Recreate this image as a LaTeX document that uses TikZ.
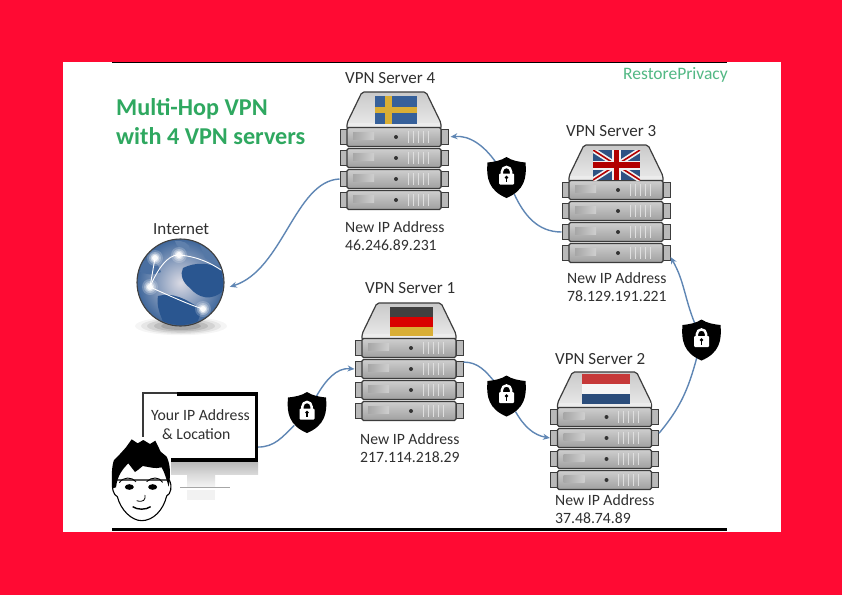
\documentclass[tikz,border=0pt]{standalone}
\usepackage{fontspec}
\setmainfont{Carlito}
\usetikzlibrary{arrows.meta}
\definecolor{pagered}{HTML}{FF0A33}
\definecolor{titlegreen}{HTML}{2FA860}
\definecolor{markgreen}{HTML}{52B884}
\definecolor{linkblue}{HTML}{5F86B4}
\definecolor{inktext}{HTML}{303030}
\definecolor{srvedge}{HTML}{3C3C3C}
\definecolor{seblue}{HTML}{36609A}
\definecolor{seyellow}{HTML}{D9AE35}
\definecolor{globeland}{HTML}{2A5690}
\tikzset{
  txtlabel/.style={anchor=west,inner sep=0pt,text=inktext,font=\fontsize{15.7}{17.7}\selectfont,align=left},
  namelabel/.style={txtlabel,font=\fontsize{17}{20}\selectfont},
  link/.style={draw=linkblue,line width=1.4pt},
  linkarrow/.style={link,-{Stealth[length=7pt,width=6pt]}},
  lockbox/.style={circle,minimum size=36pt,inner sep=0pt},
  srvear/.style={draw=srvedge,line width=1pt,fill=gray!55,minimum width=7pt,minimum height=15pt,inner sep=0pt},
  srvunit/.style={draw=srvedge,line width=1.2pt,rounded corners=1.5pt,top color=gray!38,bottom color=gray!75,minimum width=94pt,minimum height=19pt,inner sep=0pt},
  pics/vpnserver/.style={code={
    \draw[srvedge,line width=1.2pt,rounded corners=2pt,top color=gray!42,bottom color=gray!15]
      (-32,0) -- (32,0) -- (47,31) -- (47,37) -- (-47,37) -- (-47,31) -- cycle;
    \foreach \i/\y in {1/45,2/66,3/87,4/108}{
      \node[srvear] (-l\i) at (-50.5,\y) {};
      \node[srvear] (-r\i) at (50.5,\y) {};
      \node[srvunit] (-u\i) at (0,\y) {};
      \shade[left color=gray!70,right color=gray!38] (-41,\y-5) rectangle (-20,\y+2);
      \fill[black!80] (2,\y) circle (2pt);
      \foreach \v in {14,19,...,34}
        \draw[white!75!gray,line width=0.9pt] (\v,\y-6) -- (\v,\y+6);
    }
    \fill[white!85!gray] (-46,31) rectangle (46,34);
  }},
  pics/flagse/.style={code={
    \fill[seblue] (-21,-14) rectangle (21,14);
    \fill[seyellow] (-11,-14) rectangle (-4,14);
    \fill[seyellow] (-21,-3) rectangle (21,3);
  }},
  pics/flagde/.style={code={
    \fill[black!75] (-21.5,-14.5) rectangle (21.5,-5);
    \fill[red!85!black] (-21.5,-5) rectangle (21.5,5);
    \fill[seyellow] (-21.5,5) rectangle (21.5,14.5);
  }},
  pics/flagnl/.style={code={
    \fill[red!55!gray] (-24,-15) rectangle (24,-5.5);
    \fill[gray!8] (-24,-5.5) rectangle (24,5);
    \fill[seblue!80!black] (-24,5) rectangle (24,15);
  }},
  pics/flaguk/.style={code={
    \begin{scope}
      \clip (-23.5,-15) rectangle (23.5,15);
      \fill[seblue!85!black] (-23.5,-15) rectangle (23.5,15);
      \draw[gray!10,line width=5pt] (-23.5,-15) -- (23.5,15) (-23.5,15) -- (23.5,-15);
      \draw[red!70!black,line width=1.6pt] (-23.5,-15) -- (23.5,15) (-23.5,15) -- (23.5,-15);
      \draw[gray!10,line width=9pt] (0,-15) -- (0,15) (-23.5,0) -- (23.5,0);
      \draw[red!70!black,line width=5.5pt] (0,-15) -- (0,15) (-23.5,0) -- (23.5,0);
    \end{scope}
  }},
  pics/lockshield/.style={code={
    \fill[black] (0,-20.5) .. controls (5,-17) and (13,-15.5) .. (19,-15)
      .. controls (20.5,0) and (18,13) .. (0,20.5)
      .. controls (-18,13) and (-20.5,0) .. (-19,-15)
      .. controls (-13,-15.5) and (-5,-17) .. cycle;
    \draw[white,line width=2.4pt] (-4.6,-3) -- (-4.6,-6) arc[start angle=-180,end angle=0,radius=4.6] -- (4.6,-3);
    \fill[white,rounded corners=1pt] (-7.5,-4) rectangle (7.5,7);
    \fill[black] (0,0) circle (1.9pt);
    \fill[black] (-0.9,0) rectangle (0.9,4.5);
  }},
}
\begin{document}
\begin{tikzpicture}[x=1pt,y=-1pt]
\useasboundingbox (0,0) rectangle (842,595);
\fill[pagered] (0,0) rectangle (842,595);
\fill[white] (62.5,62) rectangle (780.5,532);
\fill[black] (112,61.5) rectangle (727,63);
\fill[black] (112,528) rectangle (727,531);

% texts
\node[anchor=west,inner sep=0pt,text=titlegreen,align=left,font=\fontsize{24.2}{29}\selectfont\bfseries] (title) at (116,122) {Multi-Hop VPN\\with 4 VPN servers};
\node[anchor=west,inner sep=0pt,text=markgreen,font=\fontsize{17.5}{20}\selectfont] (brand) at (623,75) {RestorePrivacy};
\node[namelabel] (namefour) at (345,78) {VPN Server 4};
\node[namelabel] (namethree) at (566,131) {VPN Server 3};
\node[namelabel] (nameone) at (365,288) {VPN Server 1};
\node[namelabel] (nametwo) at (555,359) {VPN Server 2};
\node[txtlabel] (ipfour) at (345,236) {New IP Address\\46.246.89.231};
\node[txtlabel] (ipthree) at (567,287) {New IP Address\\78.129.191.221};
\node[txtlabel] (ipone) at (360,448) {New IP Address\\217.114.218.29};
\node[txtlabel] (iptwo) at (555,509) {New IP Address\\37.48.74.89};
\node[namelabel] (inet) at (153,229) {Internet};

% globe
\foreach \r/\o in {46/.04,40/.06,34/.08,27/.1,20/.12}
  \fill[black,opacity=\o] (181,326) ellipse ({\r pt} and {\r*0.2 pt});
\node[circle,minimum size=87pt,inner sep=0pt,draw=black!75,line width=1.1pt,inner color=blue!15!gray!25,outer color=globeland!90] (globe) at (180.5,282.5) {};
\begin{scope}
  \clip (globe.center) circle (42.5pt);
  \fill[globeland] (183,268) .. controls (195,262) and (210,262) .. (222,270) -- (224,290) .. controls (212,302) and (198,298) .. (190,288) .. controls (182,282) and (180,274) .. cycle;
  \fill[globeland] (158,296) .. controls (172,292) and (185,298) .. (202,310) -- (196,326) -- (165,326) .. controls (160,315) and (156,305) .. cycle;
  \fill[globeland!85] (142,262) .. controls (150,258) and (158,262) .. (161,272) .. controls (152,276) and (145,274) .. (140,272) -- cycle;
  \fill[globeland!75] (175,241) .. controls (182,240) and (190,243) .. (190,250) .. controls (183,252) and (177,248) .. cycle;
  \fill[globeland!80] (200,245) .. controls (210,250) and (218,258) .. (222,268) -- (205,258) -- cycle;
  \draw[white,line width=0.9pt] (150,287) .. controls (158,268) and (168,255) .. (178,255) .. controls (195,256) and (210,262) .. (224,272);
  \draw[white,line width=0.9pt] (150,287) .. controls (170,296) and (190,305) .. (203,309);
  \draw[white,line width=0.9pt] (155,258) -- (150,287);
  \foreach \cx/\cy in {155/258,150/287,203/309,179/255}
    \foreach \r/\o in {8/.2,6/.3,4.5/.5,3/.9}
      \fill[white,opacity=\o] (\cx,\cy) circle (\r pt);
\end{scope}

% monitor
\shade[top color=gray!30,bottom color=gray!10] (187,474) rectangle (215,486);
\fill[gray!10] (187,490) rectangle (215,500);
\draw[gray!70,line width=0.8pt] (180,487.5) -- (230,487.5);
\shade[top color=gray!55,bottom color=gray!30] (142,462) rectangle (258,474);
\node[fill=white,minimum width=116pt,minimum height=70pt,inner sep=0pt] (screen) at (200,427) {};
\draw[black,line width=3.6pt] (177,393.8) -- (256.5,393.8) -- (256.5,460) -- (142,460);
\draw[gray!45!black,line width=1.6pt] (177,392.8) -- (143,392.8) -- (143,460);

% face
\begin{scope}[shift={(100,430)},x=0.3333pt,y=-0.3333pt]
  \fill[white] (30,20) rectangle (212,285);
  \draw[black,line width=1.1pt,fill=white] (38,150) .. controls (35,175) and (40,195) .. (52,200) .. controls (62,240) and (95,272) .. (125,272) .. controls (160,272) and (190,240) .. (200,198) .. controls (212,192) and (218,170) .. (208,150) -- cycle;
  \fill[black] (38,175) .. controls (33,140) and (36,105) .. (42,90) -- (60,72) -- (78,52) -- (95,28) -- (113,40) -- (130,30) -- (150,42) -- (166,32) -- (182,65) -- (200,80) .. controls (212,105) and (212,135) .. (206,170) .. controls (200,150) and (195,130) .. (185,112) .. controls (165,118) and (145,110) .. (128,108) .. controls (120,115) and (112,122) .. (105,126) -- (85,100) .. controls (70,115) and (52,135) .. (48,172) -- cycle;
  \draw[black,line width=0.9pt] (58,158) .. controls (70,140) and (95,140) .. (108,155);
  \draw[black,line width=0.9pt] (140,155) .. controls (155,140) and (178,140) .. (188,157);
  \fill[black] (88,171) ellipse ({4.5pt} and {2.8pt});
  \fill[black] (158,171) ellipse ({4.5pt} and {2.8pt});
  \draw[black,line width=0.8pt] (135,195) .. controls (137,210) and (130,218) .. (110,212);
  \draw[black,line width=1.4pt] (98,230) .. controls (112,240) and (138,240) .. (152,230);
\end{scope}
\node[txtlabel] (youraddr) at (151,415) {Your IP Address};
\node[txtlabel] (yourplace) at (162,434) {\& Location};

% positions of the shields
\node[lockbox] (lockone) at (307,412.5) {};
\node[lockbox] (locktwo) at (506.5,396) {};
\node[lockbox] (lockthree) at (701.5,340) {};
\node[lockbox] (lockfour) at (506.5,177.5) {};

% servers
\pic (srvfour) at (394,92) {vpnserver};
\pic (srvthree) at (616,145) {vpnserver};
\pic (srvone) at (409,303) {vpnserver};
\pic (srvtwo) at (604.5,372) {vpnserver};
\pic at (396,110) {flagse};
\pic at (616.5,165) {flaguk};
\pic at (411.5,321.5) {flagde};
\pic at (606,389) {flagnl};

% connectors
\draw[link] (screen.-19) to[out=0,in=225] (lockone);
\draw[linkarrow] (lockone) to[out=60,in=175] (srvone-l2.west);
\draw[link] (srvone-r2.60) to[out=0,in=130] (locktwo);
\draw[linkarrow] (locktwo) to[out=-60,in=170] (srvtwo-l2.west);
\draw[link] (srvtwo-r2) to[out=50,in=-105] (lockthree);
\draw[linkarrow] (lockthree) to[out=112,in=-60] (srvthree-r4.-45);
\draw[link] (srvthree-l3.west) to[out=180,in=-65] (lockfour);
\draw[linkarrow,shorten >=2pt] (lockfour) to[out=125,in=5] (srvfour-r1.east);
\draw[linkarrow,shorten >=6pt] (srvfour-l3.west) .. controls (295,181) and (283,270) .. (globe.-8);

% shields
\pic at (lockone) {lockshield};
\pic at (locktwo) {lockshield};
\pic at (lockthree) {lockshield};
\pic at (lockfour) {lockshield};
\end{tikzpicture}
\end{document}
